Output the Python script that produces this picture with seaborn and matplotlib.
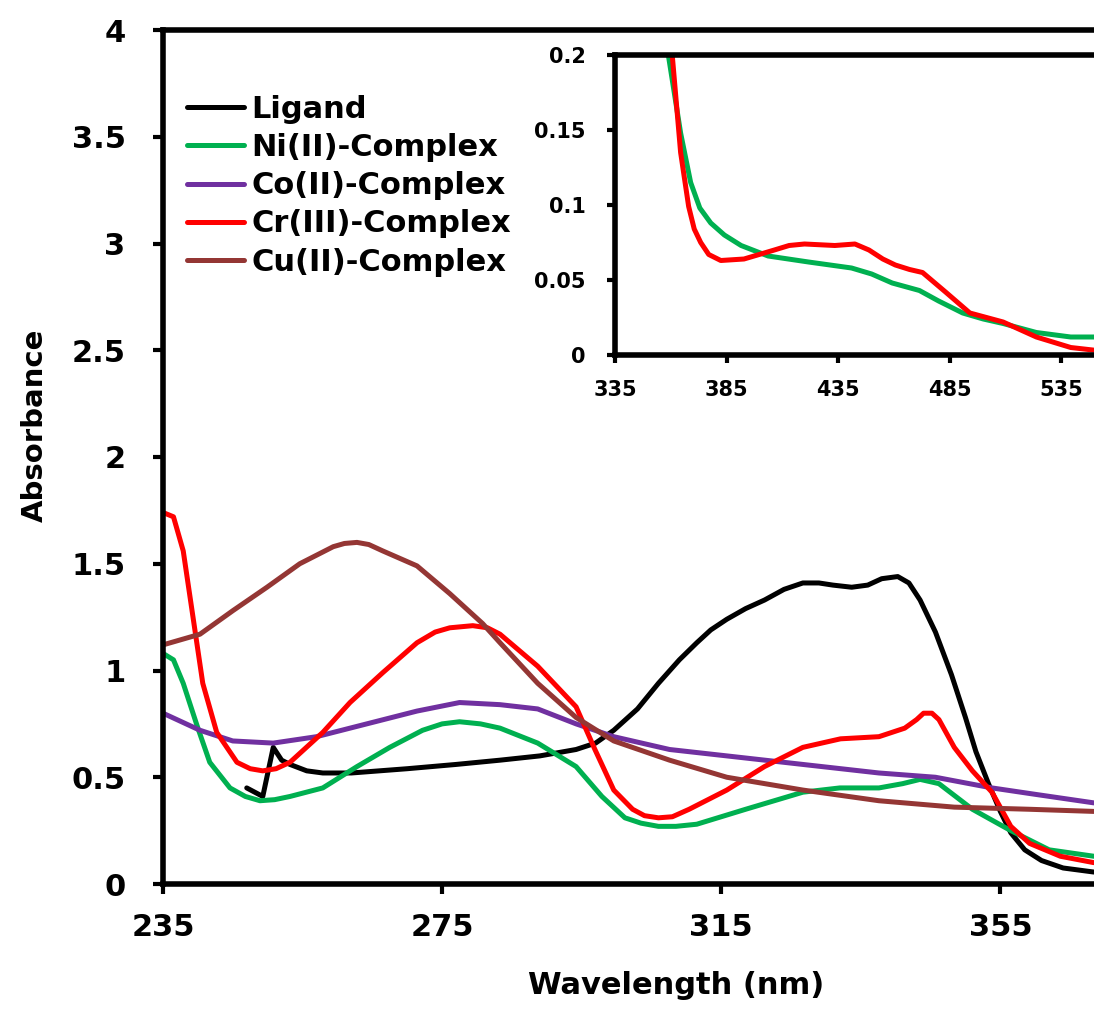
import matplotlib
matplotlib.use("Agg")
import matplotlib.pyplot as plt
import seaborn as sns

# ---- main spectrum data ----
ligand_wl = [247, 249.3, 250.8, 252, 253.2, 255.6, 257.9, 262, 270, 277, 283.3, 289, 294.2, 297,
             299.6, 303, 306, 309, 311.5, 313.5, 315.8, 318.5, 321.2, 324, 326.7, 329, 331, 333.7,
             336, 338, 340.3, 341.9, 343.5, 345.7, 348, 350, 351.5, 353.3, 355, 356.5, 358.5,
             360.9, 364, 368.4]
ligand_abs = [0.45, 0.41, 0.64, 0.58, 0.56, 0.53, 0.52, 0.52, 0.54, 0.56, 0.58, 0.60, 0.63, 0.66,
              0.72, 0.82, 0.94, 1.05, 1.13, 1.19, 1.24, 1.29, 1.33, 1.38, 1.41, 1.41, 1.40, 1.39,
              1.40, 1.43, 1.44, 1.41, 1.33, 1.18, 0.98, 0.78, 0.62, 0.47, 0.34, 0.24, 0.16,
              0.11, 0.075, 0.056]

ni_wl = [235, 236.5, 237.9, 239.9, 241.7, 244.6, 246.8, 248.9, 251, 253.2, 257.9, 262.8, 267.5,
         272.2, 275, 277.5, 280.5, 283.3, 288.7, 294.2, 297.9, 301.2, 303.5, 306, 308.5, 311.5,
         318.5, 326.7, 332, 337.6, 341, 343.5, 346.2, 351, 356.5, 362, 368.4]
ni_abs = [1.08, 1.05, 0.94, 0.74, 0.57, 0.45, 0.41, 0.39, 0.395, 0.41, 0.45, 0.55, 0.64,
          0.72, 0.75, 0.76, 0.75, 0.73, 0.66, 0.55, 0.41, 0.31, 0.285, 0.27, 0.27, 0.28,
          0.35, 0.43, 0.45, 0.45, 0.47, 0.49, 0.47, 0.35, 0.25, 0.16, 0.13]

co_wl = [235, 240.3, 245, 250.8, 257, 264.2, 271.4, 277.5, 283.3, 288.7, 294.2, 299.6, 307.6,
         315.8, 326.7, 337.6, 345.7, 353.8, 360, 368.4]
co_abs = [0.80, 0.72, 0.67, 0.66, 0.69, 0.75, 0.81, 0.85, 0.84, 0.82, 0.75, 0.69, 0.63,
          0.60, 0.56, 0.52, 0.50, 0.45, 0.42, 0.38]

cr_wl = [235, 236.5, 237.9, 239.3, 240.7, 242.7, 245.6, 247.5, 249.3, 251.2, 253.2, 257.9, 261.8,
         266.5, 271.4, 274, 276.1, 279.4, 281.5, 283.3, 288.7, 294.2, 296.9, 299.6, 302.3, 304,
         306, 308, 310.4, 315.8, 321.2, 326.7, 332.1, 337.6, 341.3, 343, 344, 345.2, 346.2, 348.4,
         351, 353.8, 356.5, 359.2, 363.6, 368.4]
cr_abs = [1.74, 1.72, 1.56, 1.25, 0.94, 0.71, 0.57, 0.54, 0.53, 0.54, 0.57, 0.71, 0.85,
          0.99, 1.13, 1.18, 1.20, 1.21, 1.20, 1.17, 1.02, 0.83, 0.63, 0.44, 0.35, 0.32,
          0.31, 0.315, 0.35, 0.44, 0.55, 0.64, 0.68, 0.69, 0.73, 0.77, 0.80, 0.80, 0.77, 0.64,
          0.53, 0.43, 0.27, 0.19, 0.13, 0.10]

cu_wl = [235, 240.3, 245, 249.9, 254.6, 259.4, 261, 262.8, 264.5, 266.5, 271.4, 276.1, 280.8,
         283.3, 288.7, 294.2, 299.6, 307.6, 315.8, 326.7, 337.6, 348.4, 359.2, 368.4]
cu_abs = [1.12, 1.17, 1.28, 1.39, 1.50, 1.58, 1.595, 1.60, 1.59, 1.56, 1.49, 1.36, 1.22,
          1.13, 0.94, 0.78, 0.67, 0.58, 0.50, 0.44, 0.39, 0.36, 0.35, 0.34]

# ---- inset (visible region) ----
ni_vis_wl = [355, 359, 364.4, 368.9, 373, 377.9, 384, 391.5, 403.6, 421.7, 441, 450, 459.2,
             471.4, 480, 490.8, 500, 508.9, 523.8, 539.2, 551]
ni_vis_abs = [0.26, 0.199, 0.148, 0.115, 0.098, 0.088, 0.080, 0.073, 0.066, 0.062, 0.058, 0.054,
              0.048, 0.043, 0.036, 0.028, 0.024, 0.021, 0.015, 0.012, 0.012]
cr_vis_wl = [357, 360.7, 364.4, 368, 370.5, 373.4, 377, 382.4, 392.8, 406.4, 413, 419.9, 433.5,
             442.5, 448.8, 455, 460.6, 467, 472.8, 483.1, 494, 508.9, 523.8, 539.2, 551]
cr_vis_abs = [0.28, 0.199, 0.135, 0.099, 0.084, 0.075, 0.067, 0.063, 0.064, 0.070, 0.073, 0.074,
              0.073, 0.074, 0.070, 0.064, 0.060, 0.057, 0.055, 0.042, 0.028, 0.022, 0.012, 0.005,
              0.003]

main_xticks = [235, 275, 315, 355]
main_yticks = [0, 0.5, 1, 1.5, 2, 2.5, 3, 3.5, 4]
main_ylabels = ["0", "0.5", "1", "1.5", "2", "2.5", "3", "3.5", "4"]
inset_xticks = [335, 385, 435, 485, 535]
inset_yticks = [0, 0.05, 0.1, 0.15, 0.2]
inset_ylabels = ["0", "0.05", "0.1", "0.15", "0.2"]

colors = {"Ligand": "#000000", "Ni(II)-Complex": "#00B050", "Co(II)-Complex": "#7030A0",
          "Cr(III)-Complex": "#FF0000", "Cu(II)-Complex": "#943634"}

sns.set_style("ticks")
plt.rcParams["font.family"] = ["DejaVu Sans"]
plt.rcParams["font.weight"] = "bold"
plt.rcParams["text.color"] = "black"
plt.rcParams["axes.labelcolor"] = "black"
plt.rcParams["xtick.color"] = "black"
plt.rcParams["ytick.color"] = "black"

fig = plt.figure(figsize=(10.94, 10.09), dpi=100)
W, H = 1094, 1009
ax = fig.add_axes([163 / W, (H - 884) / H, 942 / W, 854 / H])

series = [("Ligand", ligand_wl, ligand_abs), ("Ni(II)-Complex", ni_wl, ni_abs),
          ("Co(II)-Complex", co_wl, co_abs), ("Cr(III)-Complex", cr_wl, cr_abs),
          ("Cu(II)-Complex", cu_wl, cu_abs)]
for name, wl, ab in series:
    sns.lineplot(x=wl, y=ab, ax=ax, color=colors[name], lw=3.6, label=name, sort=False)

ax.set_xlim(235, 370)
ax.set_ylim(0, 4)
ax.set_xticks(main_xticks)
ax.set_yticks(main_yticks)
ax.set_yticklabels(main_ylabels)
for side in ["left", "bottom", "top"]:
    ax.spines[side].set_linewidth(4)
    ax.spines[side].set_color("black")
ax.spines["right"].set_visible(False)
ax.tick_params(axis="both", direction="out", length=7, width=3, labelsize=22,
               colors="black", labelcolor="black")
ax.tick_params(axis="y", pad=20)
ax.tick_params(axis="x", pad=14)
ax.set_xlabel("Wavelength (nm)", fontsize=22, fontweight="bold", color="black")
ax.set_ylabel("Absorbance", fontsize=21, fontweight="bold", color="black")
ax.xaxis.set_label_coords(0.545, -0.102)
ax.yaxis.set_label_coords(-0.121, 0.537)

leg = ax.legend(loc="upper left", bbox_to_anchor=(0.0255, 0.924), frameon=False,
                prop={"weight": "bold", "size": 22}, handlelength=1.85, handletextpad=0.25,
                labelspacing=0.3, borderpad=0, borderaxespad=0)
for t in leg.get_texts():
    t.set_color("black")

# ---- inset ----
ax2 = fig.add_axes([615 / W, (H - 355) / H, 491 / W, 300 / H])
sns.lineplot(x=ni_vis_wl, y=ni_vis_abs, ax=ax2, color=colors["Ni(II)-Complex"], lw=3.6, sort=False)
sns.lineplot(x=cr_vis_wl, y=cr_vis_abs, ax=ax2, color=colors["Cr(III)-Complex"], lw=3.6, sort=False)
ax2.set_xlim(335, 555)
ax2.set_ylim(0, 0.2)
ax2.set_xticks(inset_xticks)
ax2.set_yticks(inset_yticks)
ax2.set_yticklabels(inset_ylabels)
for side in ["left", "bottom", "top"]:
    ax2.spines[side].set_linewidth(4)
    ax2.spines[side].set_color("black")
ax2.spines["right"].set_visible(False)
ax2.tick_params(axis="both", direction="out", length=6, width=3, labelsize=15,
                colors="black", labelcolor="black")
ax2.tick_params(axis="y", pad=15)
ax2.tick_params(axis="x", pad=12)
ax2.set_xlabel("")
ax2.set_ylabel("")

fig.savefig("out.png", dpi=100)
